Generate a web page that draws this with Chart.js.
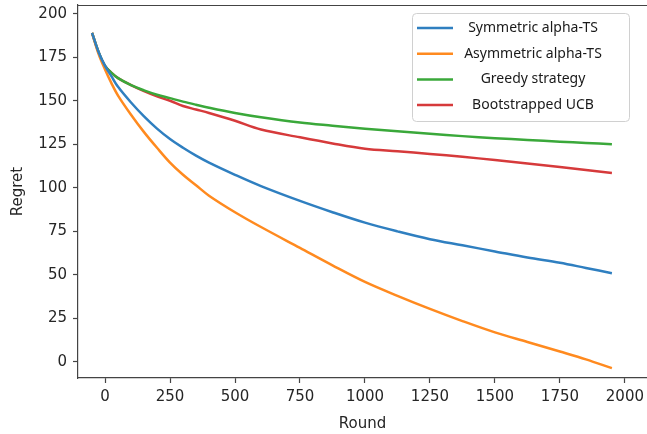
<!DOCTYPE html>
<html lang="en">
<head>
  <meta charset="UTF-8" />
  <title>Regret vs Round</title>
  <style>
    html, body { margin: 0; padding: 0; background: #fff; }
    #wrap { width: 647px; height: 434px; position: relative; }
  </style>
</head>
<body>
  <div id="wrap"><canvas id="regretChart"></canvas></div>

  <script src="https://cdn.jsdelivr.net/npm/chart.js"></script>
  <script>
    const rounds = [-50, -25, 0, 25, 50, 100, 150, 200, 250, 300, 350, 400, 500, 600, 750, 875, 1000, 1125, 1250, 1375, 1500, 1625, 1750, 1850, 1950];

    const symmetricTS  = [189, 178, 170, 164, 158, 149, 141, 134, 128, 123, 118.5, 114.5, 107.5, 101, 92.5, 86, 80, 75, 70.5, 67, 63.5, 60, 57, 54, 51];
    const asymmetricTS = [189, 177, 168, 160, 153, 142, 132, 123, 114.5, 107.5, 101.5, 95.5, 86, 77.5, 65.5, 55.5, 46, 38, 30.5, 23.5, 17, 11.5, 6, 1.5, -3.5];
    const greedy       = [189, 178, 170, 166, 163, 159, 156, 153.5, 151.5, 149.5, 147.7, 146, 143, 140.5, 137.5, 135.7, 134, 132.5, 131, 129.7, 128.5, 127.5, 126.5, 125.8, 125];
    const bootUCB      = [189, 178, 170, 166, 163, 159, 155.5, 152.5, 150, 147, 145, 143, 138.5, 133.5, 129, 125.5, 122.5, 121, 119.5, 117.8, 116, 114, 112, 110.2, 108.5];

    const seriesNames = ["Symmetric alpha-TS", "Asymmetric alpha-TS", "Greedy strategy", "Bootstrapped UCB"];
    const seriesColors = ["#2f7fc0", "#ff8a1f", "#3aa83a", "#d63a3b"];

    const xTicks = [0, 250, 500, 750, 1000, 1250, 1500, 1750, 2000];
    const yTicks = [0, 25, 50, 75, 100, 125, 150, 175, 200];

    function toPoints(values) {
      return rounds.map((r, i) => ({ x: r, y: values[i] }));
    }

    const allSeries = [symmetricTS, asymmetricTS, greedy, bootUCB];
    const datasets = allSeries.map((vals, i) => ({
      label: seriesNames[i],
      data: toPoints(vals),
      borderColor: seriesColors[i],
      borderWidth: 2.5,
      pointRadius: 0,
      tension: 0.35,
      fill: false
    }));

    // frame line on top + boxed legend like the original figure
    const framePlugin = {
      id: "frame",
      afterDraw(chart) {
        const { ctx, chartArea } = chart;
        ctx.save();
        ctx.strokeStyle = "#444";
        ctx.lineWidth = 1.2;
        ctx.beginPath();
        ctx.moveTo(chartArea.left, chartArea.top + 0.5);
        ctx.lineTo(chartArea.right, chartArea.top + 0.5);
        ctx.stroke();

        // legend box
        const bx = 412, by = 13, bw = 217, bh = 108;
        ctx.fillStyle = "rgba(255,255,255,0.9)";
        ctx.strokeStyle = "#d0d0d0";
        ctx.lineWidth = 1;
        ctx.beginPath();
        ctx.roundRect(bx + 0.5, by + 0.5, bw, bh, 4);
        ctx.fill();
        ctx.stroke();

        ctx.font = "14px 'Noto Sans'";
        ctx.textAlign = "center";
        ctx.textBaseline = "middle";
        chart.data.datasets.forEach((ds, i) => {
          const y = 28 + i * 25.7;
          ctx.strokeStyle = ds.borderColor;
          ctx.lineWidth = 2.5;
          ctx.beginPath();
          ctx.moveTo(417, y);
          ctx.lineTo(453, y);
          ctx.stroke();
          ctx.fillStyle = "#1a1a1a";
          ctx.fillText(ds.label, 533, y);
        });
        ctx.restore();
      }
    };

    const tickFont = { family: "'DejaVu Sans'", size: 15 };

    new Chart(document.getElementById("regretChart"), {
      type: "line",
      data: { datasets: datasets },
      options: {
        responsive: true,
        maintainAspectRatio: false,
        animation: false,
        layout: { padding: { top: 5, right: 0, left: 0, bottom: 0 } },
        plugins: {
          legend: { display: false },
          tooltip: { enabled: false }
        },
        scales: {
          x: {
            type: "linear",
            min: -104,
            max: 2085,
            afterBuildTicks: scale => { scale.ticks = xTicks.map(v => ({ value: v })); },
            afterFit: scale => { scale.height = 56; scale.paddingLeft = 0; scale.paddingRight = 0; },
            ticks: { color: "#262626", font: tickFont, padding: 5, maxRotation: 0, callback: v => String(v) },
            grid: { drawOnChartArea: false, tickLength: 5, color: "#444", tickWidth: 1.2 },
            border: { color: "#444", width: 1.2 },
            title: { display: true, text: "Round", color: "#262626", font: tickFont, padding: { top: 0, bottom: 1 } }
          },
          y: {
            type: "linear",
            min: -9.2,
            max: 205,
            afterBuildTicks: scale => { scale.ticks = yTicks.map(v => ({ value: v })); },
            afterFit: scale => { scale.width = 78; scale.paddingTop = 0; scale.paddingBottom = 0; },
            ticks: { color: "#262626", font: tickFont, padding: 6, callback: v => String(v) },
            grid: { drawOnChartArea: false, tickLength: 5, color: "#444", tickWidth: 1.2 },
            border: { color: "#444", width: 1.2 },
            title: { display: true, text: "Regret", color: "#262626", font: tickFont, padding: { top: 9, bottom: 0 } }
          }
        }
      },
      plugins: [framePlugin]
    });
  </script>
</body>
</html>
